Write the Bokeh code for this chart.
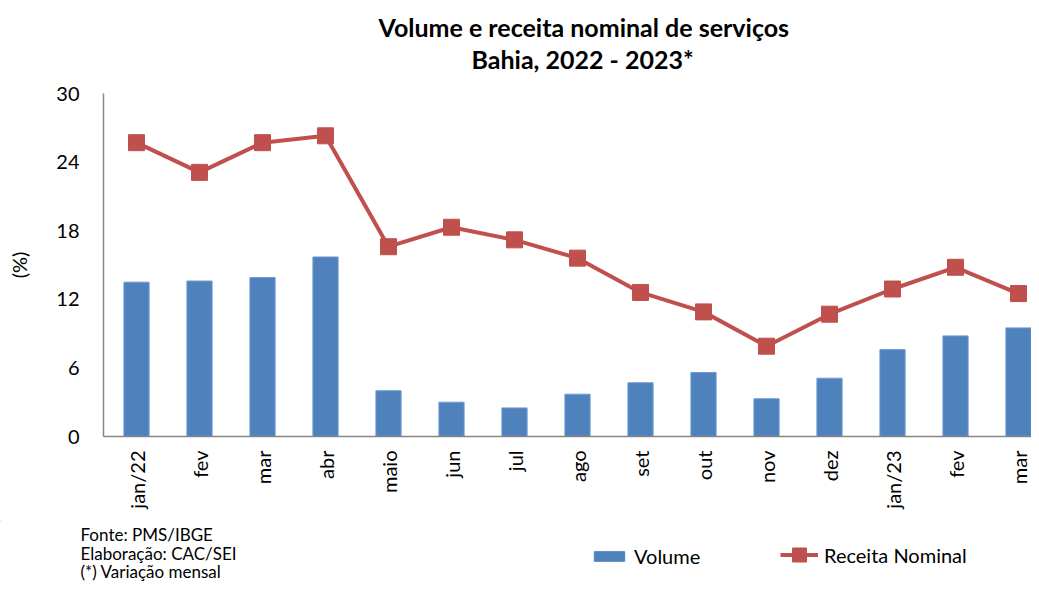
import math
from bokeh.plotting import figure
from bokeh.layouts import column
from bokeh.models import ColumnDataSource, FixedTicker, Legend, LegendItem, Range1d, Title
from bokeh.core.properties import value
from bokeh.embed import file_html
from bokeh.resources import INLINE

categories = ["jan/22", "fev", "mar", "abr", "maio", "jun", "jul", "ago", "set", "out", "nov", "dez", "jan/23", "fev", "mar"]
volume = [13.5, 13.6, 13.9, 15.7, 4.0, 3.0, 2.5, 3.7, 4.7, 5.6, 3.3, 5.1, 7.6, 8.8, 9.5]
receita = [25.7, 23.1, 25.7, 26.3, 16.6, 18.3, 17.2, 15.6, 12.6, 10.9, 7.9, 10.7, 12.9, 14.8, 12.5]
y_ticks = [0, 6, 12, 18, 24, 30]
title_lines = ["Volume e receita nominal de serviços", "Bahia, 2022 - 2023*"]
footer_lines = ["Fonte: PMS/IBGE", "Elaboração:  CAC/SEI", "(*) Variação mensal"]
series_names = ["Volume", "Receita Nominal"]

FONT = "Lato"
BLUE = "#4F81BD"
RED = "#C0504D"
W = 1031


def no_align(f):
    try:
        f.frame_align = False
    except Exception:
        pass


xs = list(range(len(categories)))
src = ColumnDataSource(dict(x=xs, volume=volume, receita=receita))

# ---------------- main chart ----------------
p = figure(width=W, height=520, output_backend="svg", toolbar_location=None, title_location=None,
           x_range=Range1d(-0.524, 14.206), y_range=Range1d(0, 30),
           min_border_left=103, min_border_right=0, min_border_top=93, min_border_bottom=84)
no_align(p)
p.outline_line_color = None
p.xgrid.visible = False
p.ygrid.visible = False

bars = p.vbar(x="x", top="volume", width=0.4, source=src, fill_color=BLUE, line_color="#6E9BD0", line_width=1)
line = p.line(x="x", y="receita", source=src, line_color=RED, line_width=4)
marks = p.scatter(x="x", y="receita", source=src, marker="square", size=16, fill_color=RED, line_color=RED)

p.xaxis.ticker = FixedTicker(ticks=xs)
p.xaxis.major_label_overrides = {i: c for i, c in enumerate(categories)}
p.xaxis.major_label_orientation = math.pi / 2
p.xaxis.major_tick_line_color = None
p.xaxis.minor_tick_line_color = None
p.xaxis.axis_line_color = "#868686"
p.xaxis.axis_line_width = 1.5
p.xaxis.major_label_text_font = FONT
p.xaxis.major_label_text_font_size = "20px"
p.xaxis.major_label_text_color = "#000000"
p.xaxis.major_label_standoff = 8

p.yaxis.ticker = FixedTicker(ticks=y_ticks)
p.yaxis.major_tick_line_color = None
p.yaxis.minor_tick_line_color = None
p.yaxis.axis_line_color = "#868686"
p.yaxis.axis_line_width = 1.5
p.yaxis.major_label_text_font = FONT
p.yaxis.major_label_text_font_size = "20px"
p.yaxis.major_label_text_color = "#000000"
p.yaxis.major_label_standoff = 18
p.yaxis.axis_label = "(%)"
p.yaxis.axis_label_text_font = FONT
p.yaxis.axis_label_text_font_size = "20px"
p.yaxis.axis_label_text_font_style = "normal"
p.yaxis.axis_label_text_color = "#000000"
p.yaxis.axis_label_standoff = 22

# title (above panels, stacked outward from the frame; the spacer lifts them)
p.add_layout(Title(text=" ", text_font=FONT, text_font_size="14px", standoff=0), "above")  # spacer
p.add_layout(Title(text=title_lines[1], align="left", offset=368, vertical_align="middle", standoff=0,
                   text_font=FONT, text_font_size="25px", text_font_style="bold", text_color="#000000"), "above")
p.add_layout(Title(text=title_lines[0], align="left", offset=275, vertical_align="middle", standoff=0,
                   text_font=FONT, text_font_size="25px", text_font_style="bold", text_color="#000000"), "above")

# ---------------- footer + legend strip ----------------
FH = 63
pf = figure(width=W, height=FH, output_backend="svg", toolbar_location=None, title_location=None,
            x_range=Range1d(0, W), y_range=Range1d(FH, 0), x_axis_type=None, y_axis_type=None,
            min_border_left=0, min_border_right=0, min_border_top=0, min_border_bottom=0)
no_align(pf)
pf.outline_line_color = None
pf.xgrid.visible = False
pf.ygrid.visible = False

pf.text(x=[80, 80, 80], y=[14, 33, 51], text=footer_lines, text_align="left", text_baseline="middle",
        text_font=value(FONT), text_font_size="17px", text_color="#000000")

# legend proxies (kept outside the visible range; only their styles are used by the legend)
proxy = ColumnDataSource(dict(x=[-1000], y=[-1000], top=[-1000]))
lb = pf.vbar(x="x", top="top", width=1, source=proxy, fill_color=BLUE, line_color=BLUE)
ll = pf.line(x="x", y="y", source=proxy, line_color=RED, line_width=4)
lm = pf.scatter(x="x", y="y", source=proxy, marker="square", size=14, fill_color=RED, line_color=RED)


def make_legend(items, loc, gh):
    lg = Legend(items=items, location=loc, orientation="horizontal",
                glyph_width=38, glyph_height=gh, label_standoff=6, padding=0, margin=0,
                border_line_color=None, background_fill_alpha=0,
                label_text_font=FONT, label_text_font_size="20px", label_text_color="#000000")
    pf.add_layout(lg)


make_legend([LegendItem(label=series_names[0], renderers=[lb])], (590, 15), 12)
make_legend([LegendItem(label=series_names[1], renderers=[ll, lm])], (780, 11), 35)

layout = column(p, pf, spacing=0)
open("out.html", "w").write(file_html(layout, INLINE))
